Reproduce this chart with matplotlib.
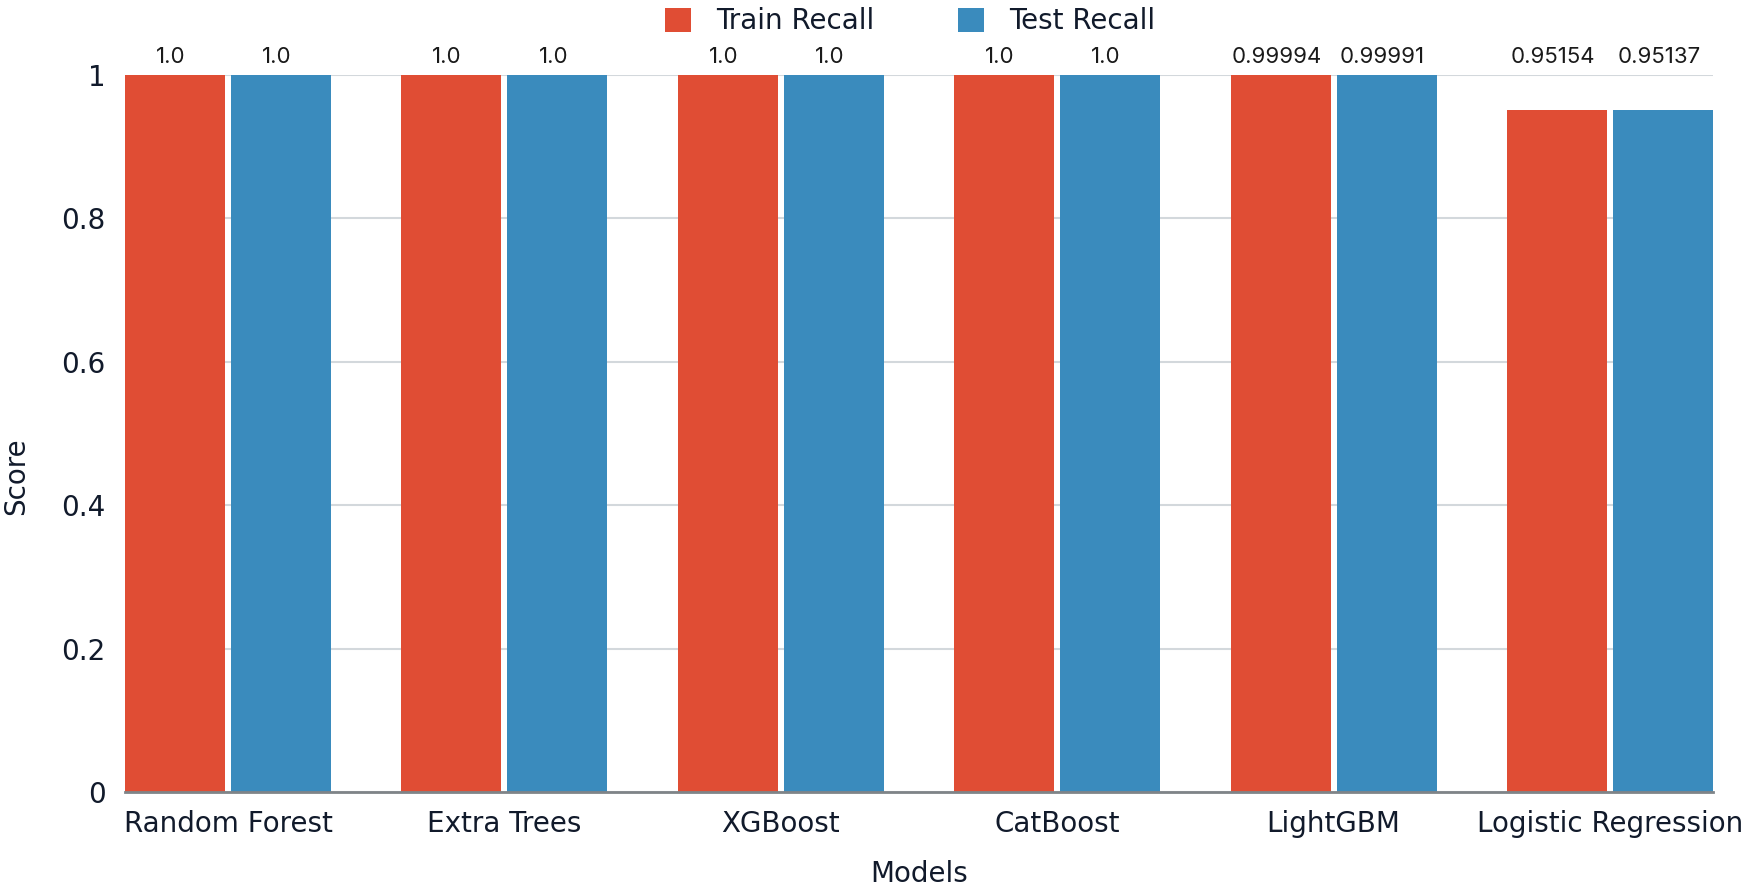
"""Train vs test recall per model, grouped bar chart."""

import matplotlib
matplotlib.use("Agg")
import matplotlib.pyplot as plt
import numpy as np

models = ["Random Forest", "Extra Trees", "XGBoost", "CatBoost", "LightGBM", "Logistic Regression"]
train_recall = [1.0, 1.0, 1.0, 1.0, 0.99994, 0.95154]
test_recall = [1.0, 1.0, 1.0, 1.0, 0.99991, 0.95137]
train_labels = ["1.0", "1.0", "1.0", "1.0", "0.99994", "0.95154"]
test_labels = ["1.0", "1.0", "1.0", "1.0", "0.99991", "0.95137"]
y_ticks = [0, 0.2, 0.4, 0.6, 0.8, 1]
y_tick_labels = ["0", "0.2", "0.4", "0.6", "0.8", "1"]

RED = "#e04d34"
BLUE = "#3a8bbd"
INK = "#111a2b"
TICK_FONT = "DejaVu Sans"
VALUE_FONT = "Inter"

fig = plt.figure(figsize=(17.5, 8.88), dpi=100)
fig.patch.set_facecolor("white")
ax = fig.add_axes([0.0714, 0.1081, 0.9075, 0.8074])

x = np.arange(len(models))
bar_w = 0.362
gap = 0.0217
off = (bar_w + gap) / 2

bars_train = ax.bar(x - off, train_recall, bar_w, color=RED, label="Train Recall", zorder=3)
bars_test = ax.bar(x + off, test_recall, bar_w, color=BLUE, label="Test Recall", zorder=3)

# value labels sit at a fixed height above the top gridline
for bars, labels in [(bars_train, train_labels), (bars_test, test_labels)]:
    for b, lab in zip(bars, labels):
        ax.annotate(lab, (b.get_x() + b.get_width() / 2, 1.0), xytext=(-3, 13),
                    textcoords="offset points", ha="center", va="center",
                    fontsize=16, color="#1a1a1a", family=VALUE_FONT,
                    annotation_clip=False)

half = bar_w + gap / 2
ax.set_xlim(x[0] - half, x[-1] + half)
ax.set_ylim(0, 1)
ax.set_yticks(y_ticks)
ax.set_yticklabels(y_tick_labels)
ax.set_xticks(x)
ax.set_xticklabels(models)
ax.tick_params(axis="both", length=0, labelsize=20, labelcolor=INK)
ax.tick_params(axis="x", pad=13)
ax.tick_params(axis="y", pad=14)
for t in ax.get_xticklabels() + ax.get_yticklabels():
    t.set_family(TICK_FONT)

ax.grid(axis="y", color="#d3d8dc", linewidth=1.5, zorder=0)
for side in ["top", "right", "left"]:
    ax.spines[side].set_visible(False)
ax.spines["bottom"].set_color("#7f8488")
ax.spines["bottom"].set_linewidth(2)
ax.spines["bottom"].set_zorder(4)

ax.set_xlabel("Models", fontsize=20, color=INK, family=TICK_FONT, va="center")
ax.xaxis.set_label_coords(0.5, -0.115)
ax.set_ylabel("Score", fontsize=20, color=INK, family=TICK_FONT, va="center")
ax.yaxis.set_label_coords(-0.0685, 0.44)

fig.legend(handles=[bars_train, bars_test], loc="center", bbox_to_anchor=(0.52, 0.976),
           ncol=2, frameon=False, prop={"family": TICK_FONT, "size": 20},
           handlelength=0.95, handleheight=0.95, handletextpad=0.9, columnspacing=3.0,
           labelcolor=INK)

fig.savefig("out.png", dpi=100, facecolor="white")
